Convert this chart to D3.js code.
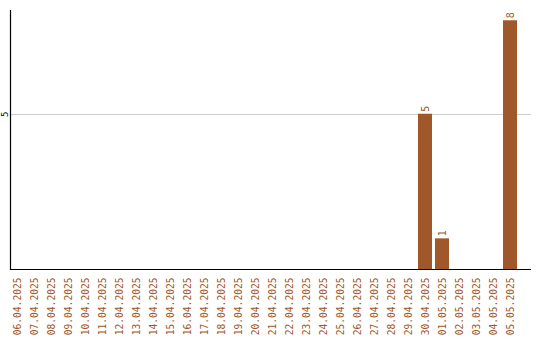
<!DOCTYPE html>
<html>
<head>
<meta charset="utf-8">
<script src="https://cdn.jsdelivr.net/npm/d3@7"></script>
<style>
  html, body { margin: 0; padding: 0; background: #fff; }
  svg { display: block; }
</style>
</head>
<body>
<svg id="chart" width="540" height="340"></svg>
<script>
// Daily counts, 06.04.2025 – 05.05.2025
const dates = [
  "06.04.2025","07.04.2025","08.04.2025","09.04.2025","10.04.2025",
  "11.04.2025","12.04.2025","13.04.2025","14.04.2025","15.04.2025",
  "16.04.2025","17.04.2025","18.04.2025","19.04.2025","20.04.2025",
  "21.04.2025","22.04.2025","23.04.2025","24.04.2025","25.04.2025",
  "26.04.2025","27.04.2025","28.04.2025","29.04.2025","30.04.2025",
  "01.05.2025","02.05.2025","03.05.2025","04.05.2025","05.05.2025"
];
const counts = [
  0,0,0,0,0, 0,0,0,0,0,
  0,0,0,0,0, 0,0,0,0,0,
  0,0,0,0,5, 1,0,0,0,8
];
const yTicks = [5];

const barColor = "#a0572a";
const font = "'DejaVu Sans Mono', monospace";

const svg = d3.select("#chart");
const plotLeft = 10.5, plotRight = 531, plotTop = 10, plotBottom = 269.5;

const x = d3.scaleBand()
  .domain(dates)
  .range([10, 517])
  .paddingInner(3 / 17)
  .paddingOuter(0);

const y = d3.scaleLinear()
  .domain([0, 8.33])
  .range([plotBottom, plotTop]);

const rows = dates.map((d, i) => ({ date: d, value: counts[i] }));

// horizontal grid lines
svg.append("g")
  .selectAll("line")
  .data(yTicks)
  .join("line")
  .attr("x1", plotLeft)
  .attr("x2", plotRight)
  .attr("y1", d => Math.round(y(d)) + 0.5)
  .attr("y2", d => Math.round(y(d)) + 0.5)
  .attr("stroke", "#cccccc")
  .attr("stroke-width", 1);

// bars
svg.append("g")
  .selectAll("rect")
  .data(rows.filter(d => d.value > 0))
  .join("rect")
  .attr("x", d => x(d.date))
  .attr("width", x.bandwidth())
  .attr("y", d => y(d.value))
  .attr("height", d => y(0) - y(d.value))
  .attr("fill", barColor);

// value labels above bars
svg.append("g")
  .selectAll("text")
  .data(rows.filter(d => d.value > 0))
  .join("text")
  .attr("transform", d => `translate(${x(d.date) + x.bandwidth() / 2 + 3.5},${y(d.value) - 2}) rotate(-90)`)
  .attr("text-anchor", "start")
  .attr("font-family", font)
  .attr("font-size", "10px")
  .attr("fill", barColor)
  .text(d => d.value);

// y axis (tick labels only, rotated)
const yAxis = d3.axisLeft(y).tickValues(yTicks).tickSize(0).tickFormat(d3.format("d"));
const yg = svg.append("g").attr("transform", `translate(${plotLeft},0)`).call(yAxis);
yg.select(".domain").remove();
yg.selectAll("text")
  .attr("x", null).attr("dy", null)
  .attr("transform", "translate(-3,0) rotate(-90)")
  .attr("text-anchor", "middle")
  .attr("font-family", font)
  .attr("font-size", "9px")
  .attr("fill", "#000");

// x axis labels (rotated)
const xAxis = d3.axisBottom(x).tickSize(0);
const xg = svg.append("g").attr("transform", `translate(0,${plotBottom})`).call(xAxis);
xg.select(".domain").remove();
xg.selectAll("text")
  .attr("x", null).attr("y", null).attr("dy", null)
  .attr("transform", "translate(3.5,8) rotate(-90)")
  .attr("text-anchor", "end")
  .attr("font-family", font)
  .attr("font-size", "9.6px")
  .attr("fill", barColor);

// axis lines
svg.append("line")
  .attr("x1", plotLeft).attr("x2", plotLeft)
  .attr("y1", plotTop).attr("y2", plotBottom + 0.5)
  .attr("stroke", "#000").attr("stroke-width", 1.2);
svg.append("line")
  .attr("x1", plotLeft).attr("x2", plotRight)
  .attr("y1", plotBottom).attr("y2", plotBottom)
  .attr("stroke", "#000").attr("stroke-width", 1.2);
</script>
</body>
</html>
